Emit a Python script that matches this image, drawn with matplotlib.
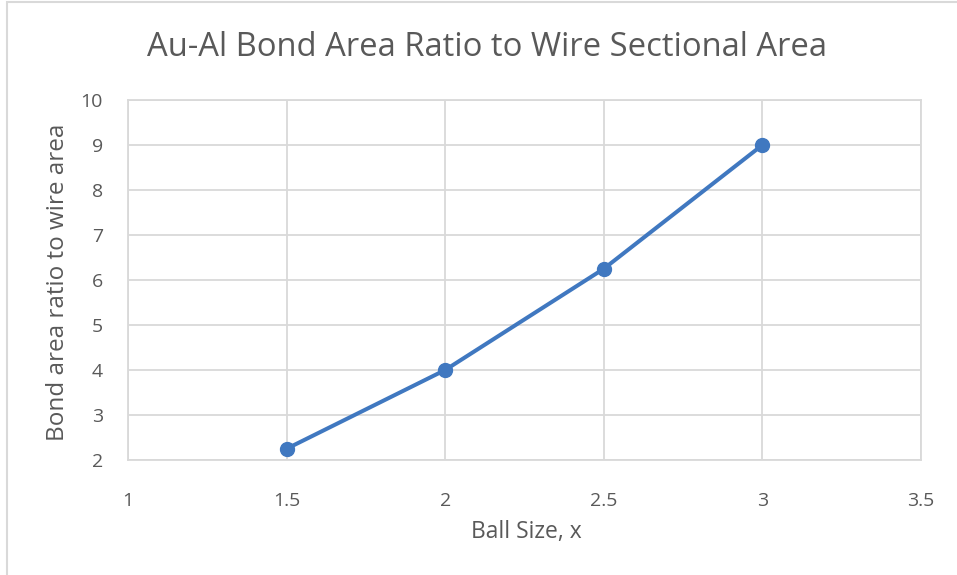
import matplotlib.pyplot as plt
from matplotlib.patches import Rectangle

# ball size vs bond area ratio
ball_size = [1.5, 2, 2.5, 3]
area_ratio = [2.25, 4, 6.25, 9]
x_ticks = [1, 1.5, 2, 2.5, 3, 3.5]
y_ticks = [2, 3, 4, 5, 6, 7, 8, 9, 10]

plt.rcParams['font.family'] = ['Open Sans', 'DejaVu Sans']
text_color = '#595959'
grid_color = '#d9d9d9'
line_color = '#4078c0'

W, H = 957, 575
fig = plt.figure(figsize=(W / 100, H / 100), dpi=100)
ax = fig.add_axes([128/W, 1 - 460/H, (921 - 128)/W, 360/H])

# chart border
fig.patches.append(Rectangle((7/W, -0.1), 1.2, 1 - 2.5/H + 0.1, transform=fig.transFigure,
                             fill=False, edgecolor='#d9d9d9', linewidth=1.5))

ax.plot(ball_size, area_ratio, color=line_color, linewidth=2.9, marker='o', markersize=10,
        solid_capstyle='round', zorder=3)

ax.set_xlim(1, 3.5)
ax.set_ylim(2, 10)
ax.set_xticks(x_ticks)
ax.set_yticks(y_ticks)
ax.set_xticklabels([str(t) for t in x_ticks])
ax.grid(True, color=grid_color, linewidth=1.3)
ax.set_axisbelow(True)
for s in ax.spines.values():
    s.set_color(grid_color)
    s.set_linewidth(1.3)
ax.tick_params(length=0, labelsize=14, colors=text_color)
ax.tick_params(axis='x', pad=23)
ax.tick_params(axis='y', pad=18)

# axis titles and chart title
fig.text(526/W, 1 - 532/H, 'Ball Size, x', fontsize=16.5, color=text_color,
         ha='center', va='center')
fig.text(58/W, 1 - 282/H, 'Bond area ratio to wire area', fontsize=17.5, color=text_color,
         ha='center', va='center', rotation=90)
fig.text(487/W, 1 - 48/H, 'Au-Al Bond Area Ratio to Wire Sectional Area', fontsize=23.6,
         color=text_color, ha='center', va='center')

fig.savefig('out.png', dpi=100)
